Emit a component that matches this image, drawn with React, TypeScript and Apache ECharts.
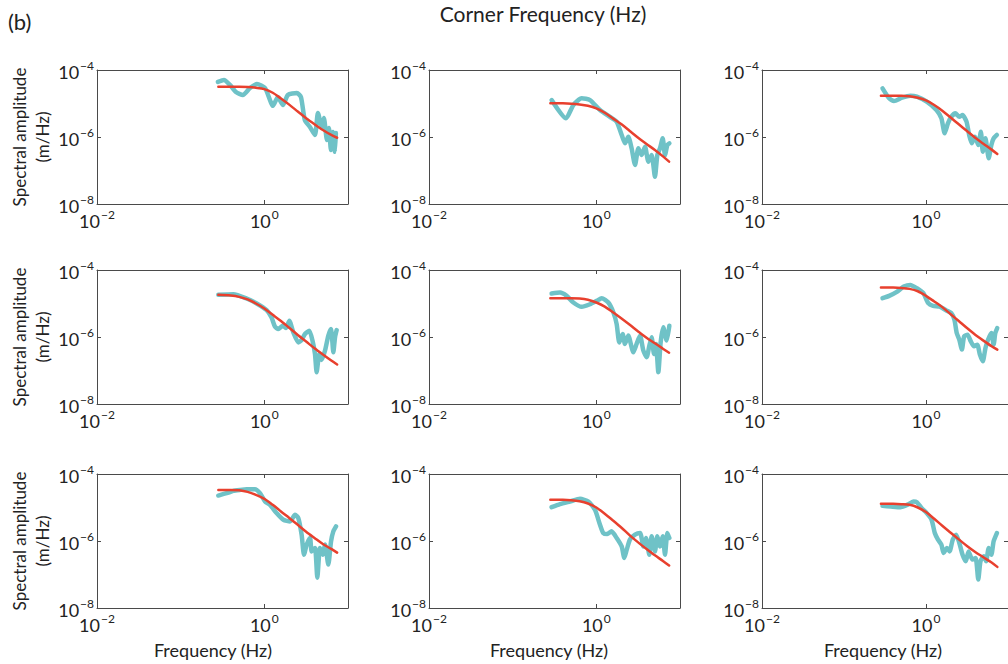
import React, { useEffect, useRef } from "react";
import * as echarts from "echarts";

// ---------- data ----------
// frequency (Hz) sampling of the fitted source-spectrum curves
const fitFreq = [0.282, 0.398, 0.501, 0.631, 0.794, 1.0, 1.26, 1.58, 2.0, 2.51, 3.16, 3.98, 5.01, 6.31, 7.41];

// fitted (red) spectral amplitude curves, m/Hz
const fit_r1c1 = [3.16e-5, 3.16e-5, 3.16e-5, 3.09e-5, 2.95e-5, 2.69e-5, 2.09e-5, 1.41e-5, 9.1e-6, 5.75e-6, 3.63e-6, 2.4e-6, 1.62e-6, 1.15e-6, 9.5e-7];
const fit_r1c2 = [1.01e-5, 1.01e-5, 9.9e-6, 9.4e-6, 8.6e-6, 7.2e-6, 5.3e-6, 3.6e-6, 2.39e-6, 1.51e-6, 9.5e-7, 6.2e-7, 4.1e-7, 2.6e-7, 1.84e-7];
const fit_r1c3 = [1.71e-5, 1.71e-5, 1.71e-5, 1.64e-5, 1.49e-5, 1.24e-5, 9.0e-6, 6.1e-6, 3.8e-6, 2.39e-6, 1.51e-6, 9.5e-7, 6.3e-7, 4.2e-7, 3.1e-7];
const fit_r2c1 = [1.81e-5, 1.73e-5, 1.58e-5, 1.32e-5, 1.0e-5, 7.1e-6, 4.6e-6, 2.99e-6, 1.85e-6, 1.15e-6, 7.3e-7, 4.6e-7, 3.0e-7, 1.98e-7, 1.51e-7];
const fit_r2c2 = [1.44e-5, 1.44e-5, 1.44e-5, 1.41e-5, 1.29e-5, 1.07e-5, 8.1e-6, 5.5e-6, 3.58e-6, 2.32e-6, 1.47e-6, 9.5e-7, 6.5e-7, 4.4e-7, 3.4e-7];
const fit_r2c3 = [2.99e-5, 2.99e-5, 2.92e-5, 2.73e-5, 2.32e-5, 1.69e-5, 1.15e-5, 7.8e-6, 4.8e-6, 2.99e-6, 1.85e-6, 1.17e-6, 7.8e-7, 5.3e-7, 4.2e-7];
const fit_r3c1 = [3.35e-5, 3.35e-5, 3.27e-5, 2.92e-5, 2.38e-5, 1.81e-5, 1.2e-5, 7.6e-6, 4.8e-6, 3.05e-6, 1.89e-6, 1.23e-6, 8.1e-7, 5.8e-7, 4.5e-7];
const fit_r3c2 = [1.69e-5, 1.69e-5, 1.65e-5, 1.54e-5, 1.32e-5, 1.0e-5, 6.5e-6, 4.1e-6, 2.49e-6, 1.47e-6, 9.1e-7, 5.8e-7, 3.75e-7, 2.49e-7, 1.85e-7];
const fit_r3c3 = [1.29e-5, 1.29e-5, 1.26e-5, 1.2e-5, 1.0e-5, 7.3e-6, 4.6e-6, 2.85e-6, 1.77e-6, 1.12e-6, 7.1e-7, 4.7e-7, 3.27e-7, 2.27e-7, 1.69e-7];

// observed (cyan) spectra: [frequency Hz, amplitude m/Hz]
const spec_r1c1 = [[0.279, 4.4e-5], [0.329, 5.0e-5], [0.388, 3.6e-5], [0.458, 2.2e-5], [0.554, 1.8e-5], [0.673, 2.9e-5], [0.817, 3.8e-5], [1.02, 2.9e-5], [1.27, 8.5e-6], [1.45, 1.56e-5], [1.67, 9.0e-6], [1.91, 1.8e-5], [2.45, 2.06e-5], [2.74, 1.56e-5], [3.05, 3.2e-6], [3.51, 2.0e-6], [4.03, 1.15e-6], [4.37, 5.2e-6], [4.88, 2.0e-6], [5.15, 3.7e-6], [5.6, 8.1e-7], [5.92, 1.86e-6], [6.25, 4.1e-7], [6.61, 1.41e-6], [6.97, 3.6e-7], [7.16, 1.31e-6]];
const spec_r1c2 = [[0.292, 1.27e-5], [0.434, 3.6e-6], [0.531, 9.0e-6], [0.668, 1.43e-5], [0.84, 1.27e-5], [1.106, 6.4e-6], [1.456, 4.0e-6], [1.75, 2.87e-6], [2.01, 1.15e-6], [2.2, 6.5e-7], [2.41, 1.02e-6], [2.64, 4.6e-7], [2.9, 1.46e-7], [3.18, 4.6e-7], [3.48, 2.9e-7], [3.82, 5.1e-7], [4.19, 1.84e-7], [4.58, 2.9e-7], [5.02, 6.5e-8], [5.36, 2.9e-7], [5.77, 4.6e-7], [6.21, 9.1e-7], [6.62, 2.9e-7], [7.06, 5.8e-7], [7.46, 6.5e-7]];
const spec_r1c3 = [[0.295, 2.84e-5], [0.355, 1.43e-5], [0.407, 1.19e-5], [0.512, 1.49e-5], [0.644, 1.71e-5], [0.773, 1.6e-5], [1.02, 1.13e-5], [1.34, 6.4e-6], [1.54, 3.6e-6], [1.69, 1.29e-6], [1.85, 2.56e-6], [2.03, 4.0e-6], [2.28, 5.1e-6], [2.55, 4.0e-6], [2.79, 4.5e-6], [3.12, 2.87e-6], [3.36, 1.15e-6], [3.61, 6.5e-7], [3.96, 1.02e-6], [4.34, 5.8e-7], [4.67, 1.44e-6], [4.93, 3.65e-7], [5.31, 9.1e-7], [5.82, 2.31e-7], [6.27, 5.8e-7], [6.68, 9.1e-7], [7.32, 1.15e-6]];
const spec_r2c1 = [[0.282, 1.81e-5], [0.426, 1.89e-5], [0.615, 1.41e-5], [0.81, 1.0e-5], [1.066, 6.3e-6], [1.22, 3.8e-6], [1.34, 2.03e-6], [1.47, 1.73e-6], [1.66, 2.17e-6], [1.82, 1.85e-6], [1.99, 3.05e-6], [2.22, 1.38e-6], [2.55, 6.9e-7], [2.79, 8.1e-7], [3.06, 1.23e-6], [3.45, 1.54e-6], [3.78, 7.4e-7], [4.03, 3.1e-7], [4.22, 8.9e-8], [4.54, 3.1e-7], [4.84, 2.07e-7], [5.31, 3.9e-7], [5.82, 1.1e-6], [6.27, 1.73e-6], [6.68, 3.5e-7], [7.0, 9.8e-7], [7.32, 1.61e-6]];
const spec_r2c2 = [[0.292, 1.98e-5], [0.368, 2.12e-5], [0.442, 1.69e-5], [0.531, 1.07e-5], [0.668, 7.96e-6], [0.84, 9.5e-6], [1.01, 1.2e-5], [1.16, 1.44e-5], [1.39, 1.07e-5], [1.6, 5.4e-6], [1.75, 2.43e-6], [1.88, 6.9e-7], [2.06, 1.23e-6], [2.2, 6.2e-7], [2.41, 1.1e-6], [2.77, 3.5e-7], [3.03, 6.2e-7], [3.33, 1.1e-6], [3.65, 3.9e-7], [4.0, 2.49e-7], [4.3, 5.5e-7], [4.58, 9.8e-7], [4.89, 3.1e-7], [5.16, 6.2e-7], [5.51, 8.9e-8], [5.87, 6.9e-7], [6.32, 1.94e-6], [6.93, 7.8e-7], [7.46, 2.17e-6]];
const spec_r2c3 = [[0.295, 1.44e-5], [0.355, 1.69e-5], [0.446, 2.27e-5], [0.536, 3.2e-5], [0.644, 3.58e-5], [0.773, 2.85e-5], [0.929, 2.03e-5], [1.066, 1.02e-5], [1.22, 8.5e-6], [1.47, 8.1e-6], [1.77, 6.2e-6], [2.03, 5.2e-6], [2.22, 3.27e-6], [2.37, 1.31e-6], [2.55, 8.3e-7], [2.74, 4.2e-7], [2.92, 1.05e-6], [3.21, 1.17e-6], [3.52, 7.4e-7], [3.85, 5.3e-7], [4.22, 5.9e-7], [4.54, 3.0e-7], [4.93, 1.89e-7], [5.31, 4.7e-7], [5.71, 8.3e-7], [6.27, 1.31e-6], [6.68, 5.9e-7], [7.0, 1.31e-6], [7.39, 1.85e-6]];
const spec_r3c1 = [[0.282, 2.27e-5], [0.355, 2.67e-5], [0.426, 3.13e-5], [0.512, 3.35e-5], [0.615, 3.51e-5], [0.773, 3.51e-5], [0.887, 2.67e-5], [1.02, 1.51e-5], [1.17, 1.2e-5], [1.4, 6.8e-6], [1.69, 4.3e-6], [2.03, 3.84e-6], [2.33, 6.05e-6], [2.55, 4.8e-6], [2.79, 1.54e-6], [2.98, 3.9e-7], [3.21, 7.8e-7], [3.52, 1.23e-6], [3.68, 4.9e-7], [4.03, 6.2e-7], [4.3, 8.0e-8], [4.62, 6.2e-7], [4.98, 3.9e-7], [5.31, 7.8e-7], [5.82, 1.98e-7], [6.27, 9.8e-7], [6.68, 1.94e-6], [7.19, 2.73e-6]];
const spec_r3c2 = [[0.292, 1.02e-5], [0.368, 1.26e-5], [0.484, 1.51e-5], [0.638, 1.81e-5], [0.802, 1.51e-5], [0.964, 8.5e-6], [1.106, 3.05e-6], [1.21, 1.73e-6], [1.35, 1.61e-6], [1.52, 1.94e-6], [1.75, 1.23e-6], [2.01, 6.9e-7], [2.16, 3.1e-7], [2.31, 5.5e-7], [2.52, 1.1e-6], [2.9, 1.54e-6], [3.33, 1.73e-6], [3.65, 6.9e-7], [3.92, 1.23e-6], [4.3, 3.9e-7], [4.58, 1.38e-6], [5.02, 4.9e-7], [5.36, 1.38e-6], [5.77, 6.9e-7], [6.21, 1.38e-6], [6.62, 3.9e-7], [7.06, 1.73e-6], [7.46, 1.23e-6]];
const spec_r3c3 = [[0.295, 1.12e-5], [0.372, 1.07e-5], [0.489, 1.02e-5], [0.615, 1.26e-5], [0.706, 1.51e-5], [0.773, 1.44e-5], [0.887, 9.5e-6], [1.02, 6.8e-6], [1.17, 4.3e-6], [1.28, 1.73e-6], [1.4, 1.1e-6], [1.54, 7.8e-7], [1.64, 4.4e-7], [1.8, 6.2e-7], [1.94, 4.9e-7], [2.12, 1.1e-6], [2.33, 1.54e-6], [2.55, 8.7e-7], [2.79, 3.9e-7], [3.06, 2.49e-7], [3.3, 4.9e-7], [3.68, 2.79e-7], [4.03, 3.1e-7], [4.34, 7.1e-8], [4.62, 2.49e-7], [5.07, 3.5e-7], [5.41, 2.49e-7], [5.82, 6.2e-7], [6.27, 3.9e-7], [6.68, 9.8e-7], [7.32, 1.73e-6]];

// axis extents / texts
const xRange = [0.01, 10];
const yRange = [1e-8, 1e-4];
const titleText = "Corner Frequency (Hz)";
const panelLabel = "(b)";
const xName = "Frequency (Hz)";
const yName1 = "Spectral amplitude";
const yName2 = "(m/Hz)";

const specs = [spec_r1c1, spec_r1c2, spec_r1c3, spec_r2c1, spec_r2c2, spec_r2c3, spec_r3c1, spec_r3c2, spec_r3c3];
const fits = [fit_r1c1, fit_r1c2, fit_r1c3, fit_r2c1, fit_r2c2, fit_r2c3, fit_r3c1, fit_r3c2, fit_r3c3];

const FONT = "Lato";
const CYAN = "#6FC2C7";
const RED = "#E8402E";
const AXIS = "#4a4a4a";
const TEXT = "#222222";

function powLabel(v: number, hideMax?: number) {
  const e = Math.round(Math.log10(v));
  if (hideMax !== undefined && e === hideMax) return "";
  const s = (e < 0 ? "\u2212" : "") + Math.abs(e);
  return "{b|10}{s|" + s + "}";
}

const rich = {
  b: { fontSize: 18, fontFamily: FONT, color: TEXT, lineHeight: 22, verticalAlign: "bottom" },
  s: { fontSize: 12, fontFamily: FONT, color: TEXT, lineHeight: 12, verticalAlign: "top", padding: [0, 0, 0, 1] },
};

export default function App() {
  const ref = useRef<HTMLDivElement>(null);
  useEffect(() => {
    if (!ref.current) return;
    const chart = echarts.init(ref.current, null, { renderer: "svg" });
    const colLeft = [97, 429, 762];
    const rowTop = [70, 270, 474];
    const W = 251;
    const H = 134;
    const grids: any[] = [];
    const xAxes: any[] = [];
    const yAxes: any[] = [];
    const series: any[] = [];
    const lineBase = { show: true, onZero: false, lineStyle: { color: AXIS, width: 1 } };
    const tickBase = { show: true, inside: true, length: 4, lineStyle: { color: AXIS, width: 1 } };
    for (let i = 0; i < 9; i++) {
      const r = Math.floor(i / 3);
      const c = i % 3;
      grids.push({ left: colLeft[c], top: rowTop[r], width: W, height: H, containLabel: false });
      xAxes.push({
        type: "log", logBase: 10, gridIndex: i, position: "bottom", min: xRange[0], max: xRange[1], interval: 2,
        axisLine: lineBase, axisTick: tickBase, splitLine: { show: false }, minorTick: { show: false },
        axisLabel: { show: true, margin: 4, showMinLabel: true, showMaxLabel: false, formatter: (v: number) => powLabel(v, 1), rich },
      });
      xAxes.push({
        type: "log", logBase: 10, gridIndex: i, position: "top", min: xRange[0], max: xRange[1], interval: 2,
        axisLine: lineBase, axisTick: tickBase, splitLine: { show: false }, axisLabel: { show: false },
      });
      yAxes.push({
        type: "log", logBase: 10, gridIndex: i, position: "left", min: yRange[0], max: yRange[1], interval: 2,
        axisLine: lineBase, axisTick: tickBase, splitLine: { show: false }, minorTick: { show: false },
        axisLabel: { show: true, margin: 3, showMinLabel: true, showMaxLabel: true, formatter: (v: number) => powLabel(v), rich },
      });
      yAxes.push({
        type: "log", logBase: 10, gridIndex: i, position: "right", min: yRange[0], max: yRange[1], interval: 2,
        axisLine: lineBase, axisTick: tickBase, splitLine: { show: false }, axisLabel: { show: false },
      });
      series.push({
        type: "line", xAxisIndex: 2 * i, yAxisIndex: 2 * i, data: specs[i], showSymbol: false, silent: true, z: 2,
        smooth: 0.2,
        lineStyle: { color: CYAN, width: 4.5, join: "round", cap: "round" },
      });
      series.push({
        type: "line", xAxisIndex: 2 * i, yAxisIndex: 2 * i, data: fitFreq.map((f, k) => [f, fits[i][k]]),
        showSymbol: false, silent: true, z: 3, smooth: 0.3,
        lineStyle: { color: RED, width: 2.5, join: "round", cap: "round" },
      });
    }
    const rowCenter = rowTop.map((t) => t + H / 2);
    const graphic: any[] = [
      { type: "text", x: 8, y: 10, style: { text: panelLabel, font: `22px ${FONT}`, fill: TEXT, align: "left", verticalAlign: "top" } },
      { type: "text", x: 543, y: 3, style: { text: titleText, font: `21px ${FONT}`, fill: TEXT, align: "center", verticalAlign: "top" } },
    ];
    rowCenter.forEach((cy) => {
      graphic.push({ type: "text", x: 19, y: cy, rotation: Math.PI / 2, style: { text: yName1, font: `17px ${FONT}`, fill: TEXT, align: "center", verticalAlign: "middle" } });
      graphic.push({ type: "text", x: 42, y: cy, rotation: Math.PI / 2, style: { text: yName2, font: `17px ${FONT}`, fill: TEXT, align: "center", verticalAlign: "middle" } });
    });
    [213, 549, 883].forEach((cx) => {
      graphic.push({ type: "text", x: cx, y: 650, style: { text: xName, font: `18px ${FONT}`, fill: TEXT, align: "center", verticalAlign: "middle" } });
    });
    chart.setOption({
      animation: false,
      backgroundColor: "#ffffff",
      grid: grids,
      xAxis: xAxes,
      yAxis: yAxes,
      series,
      graphic,
    });
    return () => chart.dispose();
  }, []);
  return <div ref={ref} style={{ position: "fixed", left: 0, top: 0, width: 1008, height: 664 }} />;
}
